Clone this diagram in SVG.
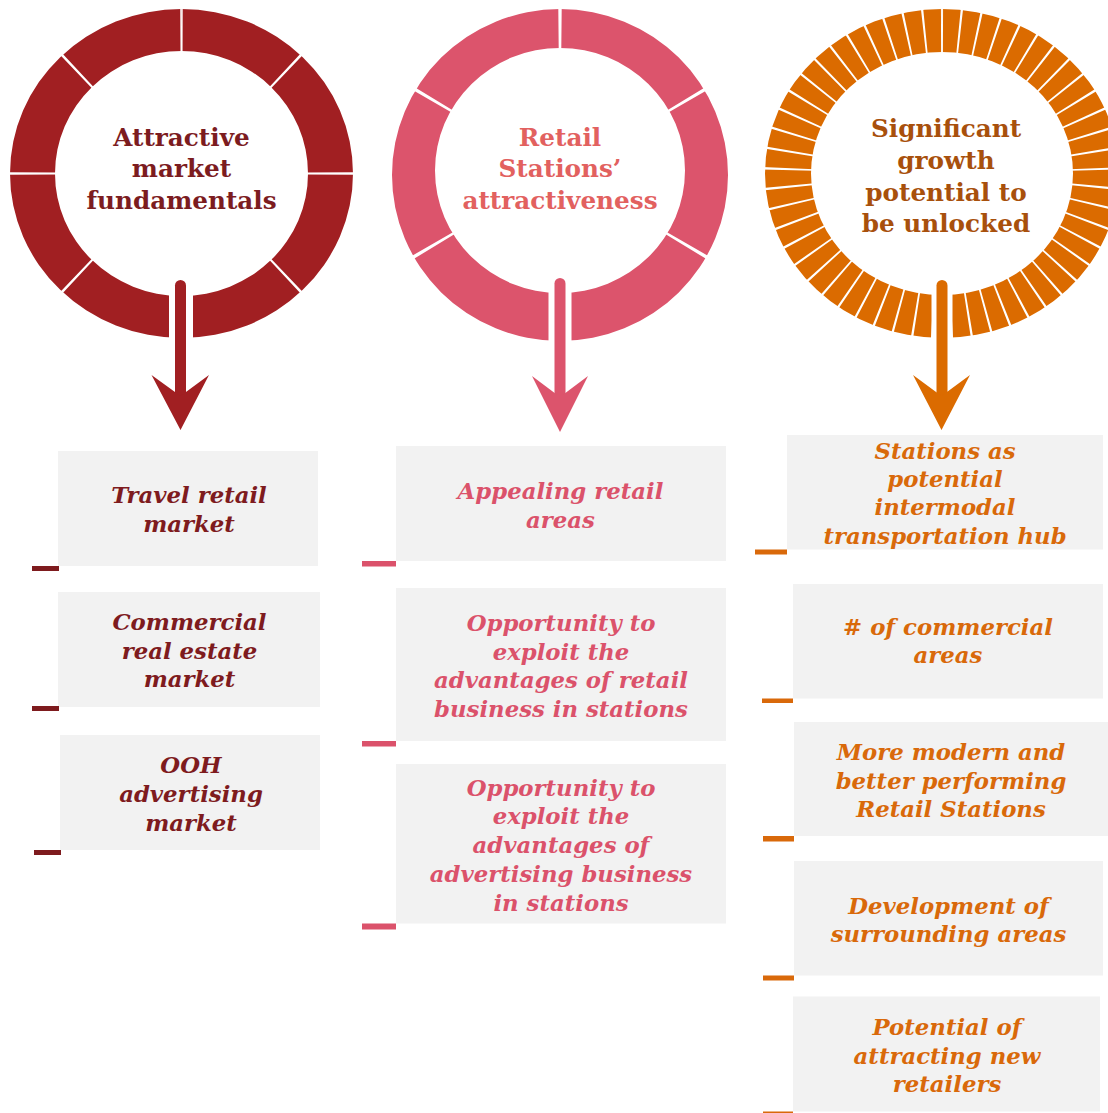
<svg xmlns="http://www.w3.org/2000/svg" width="1108" height="1113" viewBox="0 0 1108 1113">
<style>
.ctitle{font-family:"DejaVu Serif","Liberation Serif",serif;font-weight:bold;font-size:24.7px;text-anchor:middle}
.btxt{font-family:"DejaVu Serif","Liberation Serif",serif;font-weight:bold;font-style:italic;font-size:22.8px;text-anchor:middle}
.box{fill:#F2F2F2}
.div{fill:none;stroke:#FFFFFF;stroke-width:52}
.c1{fill:#A11F22}.t1{fill:#7C1C1F}.b1{fill:#7E1B1E}
.c2{fill:#DC546C}.t2{fill:#E2615F}.b2{fill:#DB526B}
.c3{fill:#DB6B00}.t3{fill:#A8500C}.b3{fill:#D9690A}
</style>
<rect width="1108" height="1113" fill="#FFFFFF"/>

<g id="node-fundamentals">
<path class="c1" fill-rule="evenodd" d="M10,173.5 a171.5,164.5 0 1,0 343,0 a171.5,164.5 0 1,0 -343,0 Z M55,173.5 a126.5,122.5 0 1,0 253,0 a126.5,122.5 0 1,0 -253,0 Z"/>
<path class="div" pathLength="80" stroke-dasharray="0.2 9.8" stroke-dashoffset="0.1" d="M181.5,30 A149,143.5 0 0 1 181.5,317 A149,143.5 0 0 1 181.5,30"/>
<rect x="169" y="285" width="24" height="60" fill="#FFFFFF"/>
<text class="ctitle t1" x="181.5" y="145.5">Attractive</text>
<text class="ctitle t1" x="181.5" y="177">market</text>
<text class="ctitle t1" x="181.5" y="209">fundamentals</text>
</g>

<g id="node-retail-attractiveness">
<path class="c2" fill-rule="evenodd" d="M392,175 a168,166 0 1,0 336,0 a168,166 0 1,0 -336,0 Z M435,170.5 a125,122.5 0 1,0 250,0 a125,122.5 0 1,0 -250,0 Z"/>
<path class="div" pathLength="60" stroke-dasharray="0.2 9.8" stroke-dashoffset="0.1" d="M560,28.5 A146.5,144.25 0 0 1 560,317 A146.5,144.25 0 0 1 560,28.5"/>
<rect x="548.5" y="285" width="23" height="62" fill="#FFFFFF"/>
<text class="ctitle t2" x="560" y="145.5">Retail</text>
<text class="ctitle t2" x="560" y="177">Stations’</text>
<text class="ctitle t2" x="560" y="209">attractiveness</text>
</g>

<g id="node-growth-potential">
<path class="c3" fill-rule="evenodd" d="M765,173.5 a177,164.5 0 1,0 354,0 a177,164.5 0 1,0 -354,0 Z M811,173.5 a131,121.5 0 1,0 262,0 a131,121.5 0 1,0 -262,0 Z"/>
<path class="div" pathLength="530" stroke-dasharray="1.14 8.86" stroke-dashoffset="0.57" d="M942,30.5 A154,143 0 0 1 942,316.5 A154,143 0 0 1 942,30.5"/>
<rect x="931.5" y="285" width="21" height="60" fill="#FFFFFF"/>
<text class="ctitle t3" x="946" y="137">Significant</text>
<text class="ctitle t3" x="946" y="168.5">growth</text>
<text class="ctitle t3" x="946" y="200.5">potential to</text>
<text class="ctitle t3" x="946" y="232">be unlocked</text>
</g>

<g id="connectors">
<line x1="180.5" y1="285.5" x2="180.5" y2="405" stroke="#A11F22" stroke-width="11" stroke-linecap="round"/>
<polygon class="c1" points="151.5,375 180.5,430 209,375 180.5,396"/>
<line x1="560" y1="283.5" x2="560" y2="405" stroke="#DC546C" stroke-width="11" stroke-linecap="round"/>
<polygon class="c2" points="532,376 560,432 588,376 560,397"/>
<line x1="942" y1="285.5" x2="942" y2="405" stroke="#DB6B00" stroke-width="11" stroke-linecap="round"/>
<polygon class="c3" points="913,375 941.5,430 970,375 941.5,396"/>
</g>

<g id="box-travel-retail">
<rect class="box" x="58" y="451" width="260" height="115"/>
<rect class="b1" x="32" y="566" width="27" height="5"/>
<text class="btxt b1" x="189" y="503">Travel retail</text>
<text class="btxt b1" x="189" y="532">market</text>
</g>
<g id="box-commercial-real-estate">
<rect class="box" x="58" y="592" width="262" height="115"/>
<rect class="b1" x="32" y="706" width="27" height="5"/>
<text class="btxt b1" x="189.5" y="630">Commercial</text>
<text class="btxt b1" x="189.5" y="658.5">real estate</text>
<text class="btxt b1" x="189.5" y="687">market</text>
</g>
<g id="box-ooh-advertising">
<rect class="box" x="60" y="735" width="260" height="115"/>
<rect class="b1" x="34" y="850" width="27" height="5"/>
<text class="btxt b1" x="191" y="773">OOH</text>
<text class="btxt b1" x="191" y="802">advertising</text>
<text class="btxt b1" x="191" y="830.5">market</text>
</g>

<g id="box-appealing-retail">
<rect class="box" x="396" y="446" width="330" height="115"/>
<rect class="b2" x="362" y="561" width="34" height="5.5"/>
<text class="btxt b2" x="560.5" y="499">Appealing retail</text>
<text class="btxt b2" x="560.5" y="527.5">areas</text>
</g>
<g id="box-retail-business">
<rect class="box" x="396" y="588" width="330" height="153"/>
<rect class="b2" x="362" y="741" width="34" height="5.5"/>
<text class="btxt b2" x="561" y="631">Opportunity to</text>
<text class="btxt b2" x="561" y="659.5">exploit the</text>
<text class="btxt b2" x="561" y="688">advantages of retail</text>
<text class="btxt b2" x="561" y="716.5">business in stations</text>
</g>
<g id="box-advertising-business">
<rect class="box" x="396" y="764" width="330" height="159.5"/>
<rect class="b2" x="362" y="923.5" width="34" height="6"/>
<text class="btxt b2" x="561" y="795.5">Opportunity to</text>
<text class="btxt b2" x="561" y="824">exploit the</text>
<text class="btxt b2" x="561" y="853">advantages of</text>
<text class="btxt b2" x="561" y="882">advertising business</text>
<text class="btxt b2" x="561" y="910.5">in stations</text>
</g>

<g id="box-intermodal-hub">
<rect class="box" x="787" y="435" width="316" height="114.5"/>
<rect class="b3" x="755" y="549.5" width="32" height="5"/>
<text class="btxt b3" x="945" y="458.5">Stations as</text>
<text class="btxt b3" x="945" y="487">potential</text>
<text class="btxt b3" x="945" y="515">intermodal</text>
<text class="btxt b3" x="945" y="543.5">transportation hub</text>
</g>
<g id="box-commercial-areas">
<rect class="box" x="793" y="584" width="310" height="114.5"/>
<rect class="b3" x="762" y="698.5" width="31" height="4.5"/>
<text class="btxt b3" x="948" y="634.5"># of commercial</text>
<text class="btxt b3" x="948" y="663">areas</text>
</g>
<g id="box-modern-stations">
<rect class="box" x="794" y="722" width="314" height="114"/>
<rect class="b3" x="763" y="836" width="31" height="5.5"/>
<text class="btxt b3" x="951" y="760">More modern and</text>
<text class="btxt b3" x="951" y="788.5">better performing</text>
<text class="btxt b3" x="951" y="817">Retail Stations</text>
</g>
<g id="box-surrounding-areas">
<rect class="box" x="794" y="861" width="309" height="114.5"/>
<rect class="b3" x="763" y="975.5" width="31" height="5"/>
<text class="btxt b3" x="948.5" y="913.5">Development of</text>
<text class="btxt b3" x="948.5" y="942">surrounding areas</text>
</g>
<g id="box-new-retailers">
<rect class="box" x="793" y="996.5" width="307" height="115"/>
<rect class="b3" x="763" y="1111.5" width="30" height="5"/>
<text class="btxt b3" x="947" y="1035">Potential of</text>
<text class="btxt b3" x="947" y="1063.5">attracting new</text>
<text class="btxt b3" x="947" y="1092">retailers</text>
</g>
</svg>
